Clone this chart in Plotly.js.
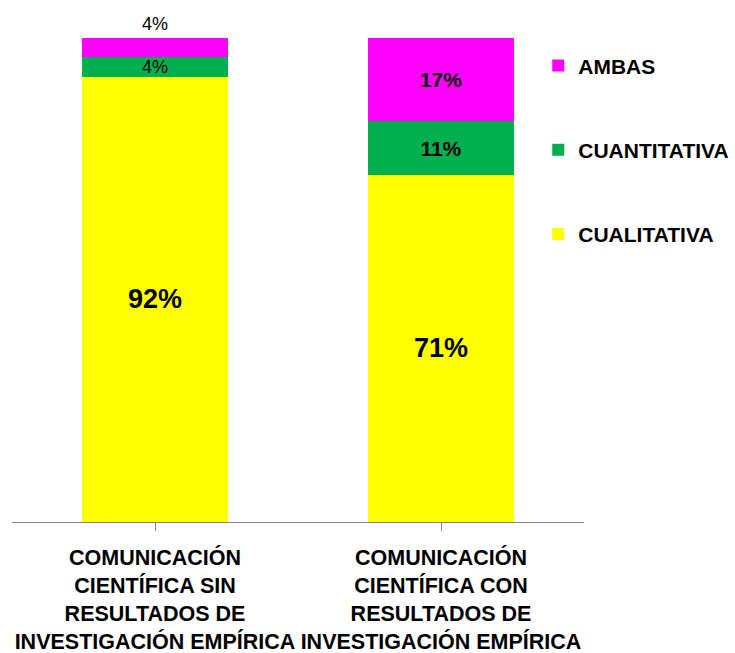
<!DOCTYPE html>
<html>
<head>
<meta charset="utf-8">
<script src="https://cdn.plot.ly/plotly-3.0.1.min.js"></script>
<style>html,body{margin:0;padding:0;background:#fff;}#chart{width:735px;height:653px;}</style>
</head>
<body>
<div id="chart"></div>
<script>
var categories = ["COMUNICACIÓN<br>CIENTÍFICA SIN<br>RESULTADOS DE<br>INVESTIGACIÓN EMPÍRICA",
                  "COMUNICACIÓN<br>CIENTÍFICA CON<br>RESULTADOS DE<br>INVESTIGACIÓN EMPÍRICA"];
var cualitativa  = [92, 71];
var cuantitativa = [4, 11];
var ambas        = [4, 17];

var FONT = "'Liberation Sans Narrow', 'Liberation Sans', Lato, sans-serif";

function label(v){ return v >= 10 ? '<b>' + v + '%</b>' : v + '%'; }

var x = [0, 1];
var specs = [
  {name: 'CUALITATIVA', y: cualitativa, color: '#FFFF00', sizes: [27, 27], rank: 3, skip: []},
  {name: 'CUANTITATIVA', y: cuantitativa, color: '#00B050', sizes: [18, 21], rank: 2, skip: []},
  {name: 'AMBAS', y: ambas, color: '#FF00FF', sizes: [18, 21], rank: 1, skip: [0]}
];
var traces = specs.map(function(t, i){
  return {
    type: 'bar', x: x, y: t.y, name: t.name, legendgroup: 'g' + i, legendrank: t.rank,
    marker: {color: t.color, line: {width: 0}},
    text: t.y.map(function(v, j){ return t.skip.indexOf(j) >= 0 ? '' : label(v); }),
    textposition: 'inside',
    insidetextanchor: 'middle',
    constraintext: 'none',
    textangle: 0,
    textfont: {family: FONT, size: t.sizes, color: '#000000'},
    hoverinfo: 'skip'
  };
});

// label of the small top segment of the first bar, placed above the bar
var totals = x.map(function(j){ return cualitativa[j] + cuantitativa[j] + ambas[j]; });
var annotations = [{
  x: 0, y: 100 * totals[0] / totals[0], xref: 'x', yref: 'y',
  text: label(ambas[0]), showarrow: false, yanchor: 'bottom', yshift: 2,
  font: {family: FONT, size: 18, color: '#000000'}
}];

var layout = {
  width: 735, height: 653,
  margin: {l: 12, r: 151, t: 38, b: 131, autoexpand: false},
  paper_bgcolor: '#ffffff', plot_bgcolor: '#ffffff',
  barmode: 'stack', barnorm: 'percent', bargap: 0.49,
  font: {family: FONT, color: '#000000'},
  showlegend: true,
  annotations: annotations,
  legend: {
    x: 0.920, xanchor: 'left', y: 0.985, yanchor: 'top',
    traceorder: 'grouped', tracegroupgap: 54,
    font: {family: FONT, size: 21, color: '#000000', weight: 'bold'},
    bgcolor: 'rgba(0,0,0,0)'
  },
  xaxis: {
    tickmode: 'array', tickvals: x, ticktext: categories,
    range: [-0.5, 1.5], showgrid: false, zeroline: false,
    showline: true, linecolor: '#868686', linewidth: 1,
    ticks: 'outside', tickson: 'boundaries', ticklen: 8, tickcolor: '#868686', tickwidth: 1,
    tickfont: {family: FONT, size: 21.5, color: '#000000', weight: 'bold'},
    tickangle: 0,
    ticklabelstandoff: 8,
    automargin: false,
    fixedrange: true
  },
  yaxis: {
    range: [0, 100], visible: false, showgrid: false, zeroline: false, fixedrange: true
  }
};

Plotly.newPlot('chart', traces, layout, {displayModeBar: false, staticPlot: true});
</script>
</body>
</html>
